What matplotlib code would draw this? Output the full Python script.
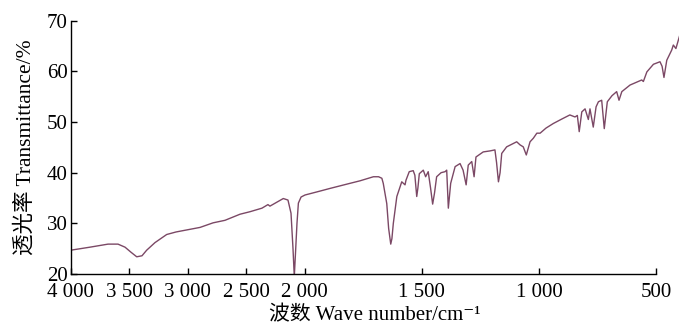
import numpy as np
import matplotlib
matplotlib.use("Agg")
import matplotlib.pyplot as plt

plt.rcParams['font.family'] = ['Liberation Serif', 'Noto Sans CJK SC', 'DejaVu Sans']

# ---- data ----
wavenumber = [4000, 3835, 3681, 3596, 3536, 3485, 3436, 3391, 3351, 3280, 3180, 3100,
              3009, 2895, 2784, 2682, 2554, 2468, 2366, 2315, 2298, 2184, 2144, 2118,
              2101, 2090, 2080, 2067, 2055, 2032, 1999,
              1949, 1892, 1807, 1764, 1707, 1685, 1671, 1665, 1650, 1642, 1633, 1628,
              1622, 1607, 1586, 1572, 1568, 1554, 1537, 1530, 1522, 1517, 1511, 1494,
              1484, 1473, 1463, 1454, 1446, 1437, 1418, 1401, 1394, 1387, 1377, 1358,
              1337, 1324, 1311, 1302, 1287, 1277, 1269, 1238, 1209, 1188, 1181, 1173,
              1166, 1159, 1138, 1095, 1081, 1067, 1054, 1038, 1024, 1009, 995, 970,
              939, 902, 868, 846, 836, 828, 817, 803, 789, 782, 768, 756, 746, 732,
              721, 708, 688, 668, 658, 646, 611, 561, 554, 539, 511, 483, 474, 466,
              454, 433, 426, 415, 400]
transmittance = [24.7, 25.3, 25.9, 25.9, 25.3, 24.3, 23.4, 23.6, 24.7, 26.2, 27.8, 28.3,
                 28.7, 29.2, 30.1, 30.6, 31.8, 32.3, 33.0, 33.7, 33.4, 34.9, 34.6, 32.0,
                 25.0, 19.5, 24.0, 30.0, 34.0, 35.2, 35.6,
                 36.2, 36.9, 37.9, 38.4, 39.2, 39.2, 38.9, 37.9, 33.9, 29.0, 25.9, 27.0,
                 30.0, 35.3, 38.2, 37.6, 38.5, 40.2, 40.4, 39.5, 35.3, 37.0, 39.8, 40.5,
                 39.2, 40.2, 37.0, 33.8, 36.0, 39.2, 40.0, 40.2, 40.5, 33.0, 37.9, 41.2,
                 41.8, 40.5, 37.6, 41.5, 42.2, 39.2, 43.1, 44.1, 44.3, 44.5, 42.0, 38.2,
                 40.0, 43.8, 45.1, 46.1, 45.5, 45.1, 43.5, 46.1, 46.8, 47.8, 47.8, 48.8,
                 49.7, 50.6, 51.4, 51.0, 51.3, 48.1, 52.0, 52.6, 50.5, 52.6, 49.0, 53.0,
                 54.0, 54.3, 48.7, 54.0, 55.2, 56.0, 54.3, 56.0, 57.3, 58.3, 58.0, 59.9,
                 61.4, 61.9, 61.0, 58.8, 62.2, 64.2, 65.2, 64.5, 66.9]
xtick_values = [4000, 3500, 3000, 2500, 2000, 1500, 1000, 500]
xtick_labels = ["4 000", "3 500", "3 000", "2 500", "2 000", "1 500", "1 000", "500"]
ytick_values = [20, 30, 40, 50, 60, 70]


def fwd(w):
    # increasing in w; half the scale above 2000 cm-1
    w = np.asarray(w, dtype=float)
    return np.where(w >= 2000, 6 + (w - 2000) / 500.0, (w - 500) / 250.0)


def inv(u):
    u = np.asarray(u, dtype=float)
    return np.where(u >= 6, 2000 + 500.0 * (u - 6), 500 + 250.0 * u)


fig = plt.figure(figsize=(7.0, 3.34), dpi=100)
ax = fig.add_axes([0.101, 0.1796, 0.8696, 0.7584])
ax.set_xscale('function', functions=(fwd, inv))
ax.plot(wavenumber, transmittance, color='#7b4865', lw=1.0)
ax.set_xlim(4000, 400)
ax.set_ylim(20, 70)

ax.set_xticks(xtick_values)
ax.set_xticklabels(xtick_labels)
ax.xaxis.set_minor_locator(matplotlib.ticker.NullLocator())
ax.set_yticks(ytick_values)
ax.tick_params(direction='in', length=4, width=1, labelsize=15, colors='black')
ax.tick_params(axis='x', pad=6.5)
ax.tick_params(axis='y', pad=2)

for s in ['top', 'right']:
    ax.spines[s].set_visible(False)
ax.spines['bottom'].set_bounds(4000, 500)
for s in ['left', 'bottom']:
    ax.spines[s].set_linewidth(1.0)

ax.set_xlabel("波数 Wave number/cm⁻¹", fontsize=15, labelpad=3)
ax.set_ylabel("透光率 Transmittance/%", fontsize=15.5, labelpad=8)

fig.savefig("out.png", dpi=100)
